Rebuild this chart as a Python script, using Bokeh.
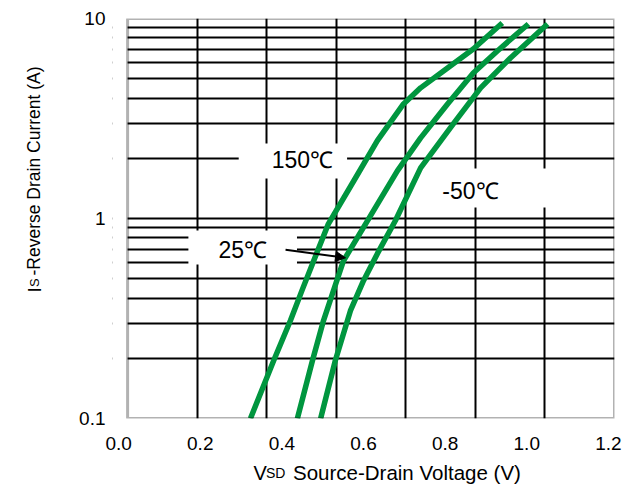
import math
from bokeh.plotting import figure
from bokeh.layouts import row, column
from bokeh.models import (Range1d, FixedTicker, NumeralTickFormatter, BoxAnnotation,
                          Label, Arrow, NormalHead)
from bokeh.embed import file_html
from bokeh.resources import INLINE

# ---- data ----
v_150 = [0.323, 0.380, 0.421, 0.451, 0.478, 0.514, 0.576, 0.634, 0.698, 0.740, 0.806, 0.869, 0.940]
i_150 = [0.100, 0.195, 0.309, 0.446, 0.615, 0.941, 1.54, 2.45, 3.74, 4.50, 5.66, 7.04, 9.50]

v_25 = [0.438, 0.475, 0.502, 0.524, 0.551, 0.610, 0.683, 0.740, 0.806, 0.869, 0.928, 1.004]
i_25 = [0.100, 0.195, 0.309, 0.421, 0.615, 0.975, 1.73, 2.53, 3.74, 5.34, 6.88, 9.39]

v_m50 = [0.495, 0.531, 0.568, 0.600, 0.634, 0.678, 0.740, 0.820, 0.887, 0.960, 1.051]
i_m50 = [0.100, 0.195, 0.346, 0.489, 0.667, 0.975, 1.79, 2.97, 4.50, 6.35, 9.39]

x_ticks = [0.0, 0.2, 0.4, 0.6, 0.8, 1.0, 1.2]
y_ticks = [0.1, 1, 10]
y_minor = [0.2, 0.3, 0.4, 0.5, 0.6, 0.7, 0.8, 0.9, 2, 3, 4, 5, 6, 7, 8, 9]

# ---- layout constants ----
X_START, X_END = -0.015, 1.215
BOX_LEFT = 0.022
N_VGRID = 7
GREEN = "#00963f"
FONT = "Liberation Sans"

p = figure(width=587, height=456, output_backend="svg", toolbar_location=None,
           x_range=Range1d(X_START, X_END), y_range=Range1d(0.1, 10),
           y_axis_type="log", min_border_left=64, min_border_right=21,
           min_border_top=18, min_border_bottom=38)
p.outline_line_color = None

for ax in (p.xaxis[0], p.yaxis[0]):
    ax.axis_line_color = None
    ax.major_tick_line_color = None
    ax.minor_tick_line_color = None
    ax.major_label_text_font = FONT
    ax.major_label_text_font_size = "19px"
    ax.major_label_text_color = "black"
p.xaxis.ticker = FixedTicker(ticks=x_ticks)
p.xaxis.formatter = NumeralTickFormatter(format="0.0")
p.xaxis.major_label_standoff = 12
p.yaxis.ticker = FixedTicker(ticks=y_ticks, minor_ticks=y_minor)
p.yaxis.formatter = NumeralTickFormatter(format="0.[0]")
p.yaxis.major_label_standoff = 1

step = (X_END - BOX_LEFT) / N_VGRID
p.xgrid.ticker = FixedTicker(ticks=[BOX_LEFT + k * step for k in range(1, N_VGRID)])
p.xgrid.grid_line_color = "black"
p.xgrid.grid_line_width = 2
p.ygrid.ticker = FixedTicker(ticks=[1], minor_ticks=y_minor)
p.ygrid.grid_line_color = "black"
p.ygrid.grid_line_width = 2
p.ygrid.minor_grid_line_color = "black"
p.ygrid.minor_grid_line_width = 2

p.add_layout(BoxAnnotation(left=X_START, right=BOX_LEFT, bottom=0.1, top=10,
                           fill_color="white", fill_alpha=1, line_alpha=0))
p.add_layout(BoxAnnotation(left=BOX_LEFT, right=X_END, bottom=0.1, top=10,
                           fill_alpha=0, line_color="black", line_width=3))

for xs, ys in ((v_150, i_150), (v_25, i_25), (v_m50, i_m50)):
    p.line(xs, ys, line_color=GREEN, line_width=5.5, line_join="round")

def temp_label(x, y, text, pad):
    return Label(x=x, y=y, text=text, text_font=FONT, text_font_size="23px",
                 text_align="center", text_baseline="middle", text_color="black",
                 background_fill_color="white", background_fill_alpha=1,
                 padding=pad)

p.add_layout(temp_label(0.427, 1.94, "150℃", dict(left=33, right=14, top=4, bottom=5)))
p.add_layout(temp_label(0.911, 1.42, "-50℃", dict(left=11, right=51, top=9, bottom=4)))
p.add_layout(temp_label(0.304, 0.716, "25℃", dict(left=30, right=30, top=6, bottom=2)))

p.add_layout(Arrow(end=NormalHead(size=10, fill_color="black", line_color="black"),
                   x_start=0.409, y_start=0.6975, x_end=0.556, y_end=0.636,
                   line_color="black", line_width=2))

# ---- axis titles with subscripts, in their own small panels ----
def blank(w, h):
    f = figure(width=w, height=h, output_backend="svg", toolbar_location=None,
               x_axis_location=None, y_axis_location=None,
               min_border=0, x_range=Range1d(0, 1), y_range=Range1d(0, 1))
    f.outline_line_color = None
    f.xgrid.visible = False
    f.ygrid.visible = False
    return f

def stitle(x, y, text, size, angle=0.0):
    return Label(x=x, y=y, x_units="screen", y_units="screen", text=text,
                 text_font=FONT, text_font_size=size, text_color="black",
                 text_align="left", text_baseline="alphabetic", angle=angle)

yf = blank(48, 456)
a = math.pi / 2
yf.add_layout(stitle(33.5, 126, "I", "19px", a))
yf.add_layout(stitle(33.5, 131.5, "S", "13px", a))
yf.add_layout(stitle(33.5, 143, "-Reverse Drain Current (A)", "17.5px", a))

xf = blank(635, 30)
xf.add_layout(stitle(253, 14, "V", "20px"))
xf.add_layout(stitle(265.5, 14, "SD", "14px"))
xf.add_layout(stitle(292.5, 14, "Source-Drain Voltage (V)", "20.5px"))

layout = column(row(yf, p, spacing=0), xf, spacing=0)

open("out.html", "w").write(file_html(layout, INLINE))
